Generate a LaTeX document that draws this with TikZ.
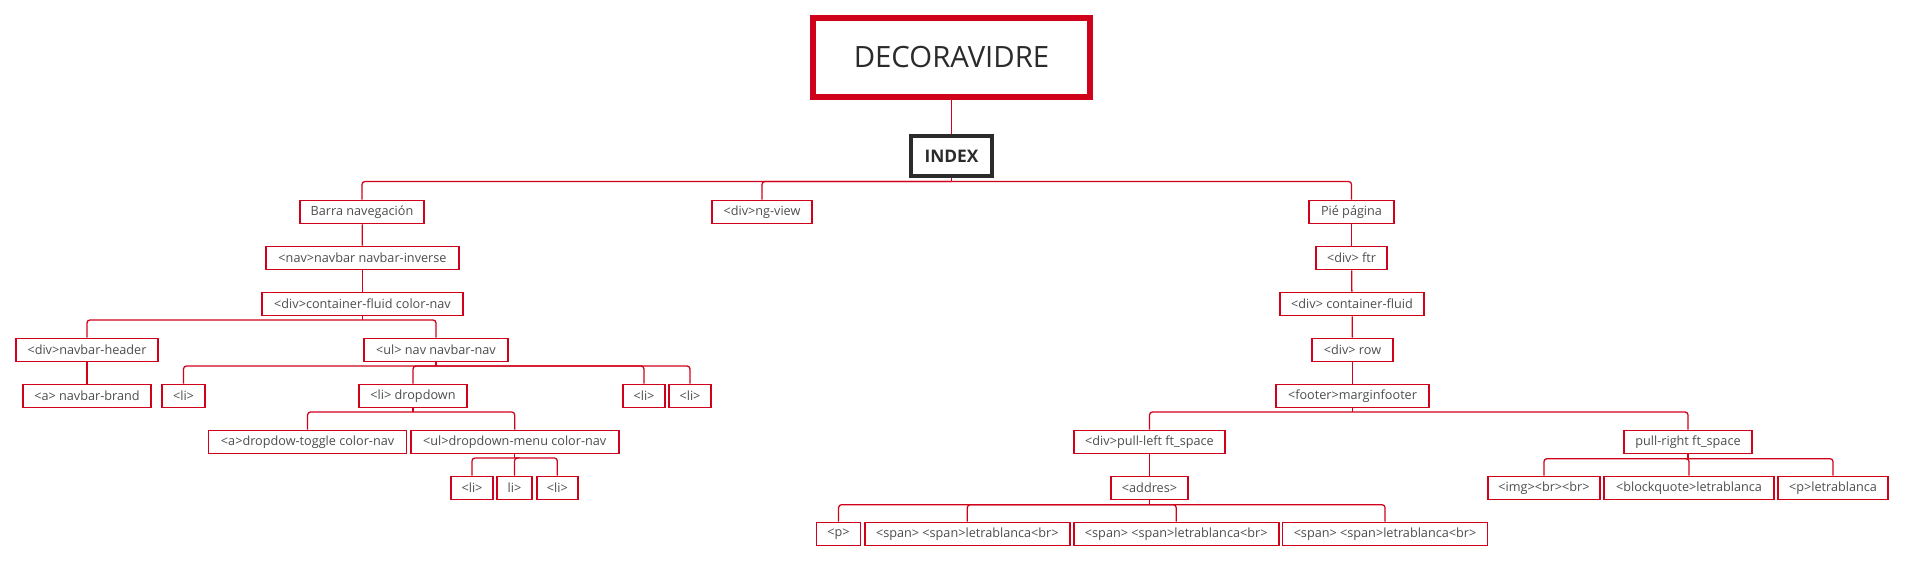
\documentclass[tikz,border=0pt]{standalone}
\usepackage{fontspec}
\setmainfont{Open Sans}
\definecolor{cred}{HTML}{D0021B}
\definecolor{ctext}{HTML}{4D4D4D}
\definecolor{cdark}{HTML}{2B2B2B}
\tikzset{
  box/.style={draw=cred, line width=1.2pt, fill=white, text=ctext, inner sep=0pt,
    minimum height=23*0.75pt, minimum width={#1*0.75pt},
    font=\fontsize{9.5pt}{11pt}\selectfont},
  conn/.style={draw=cred, line width=0.95pt, rounded corners=2.2pt},
  topbox/.style={draw=cred, line width=4.5pt, fill=white, text=cdark, inner sep=0pt,
    minimum width=277*0.75pt, minimum height=79*0.75pt,
    font=\fontsize{22pt}{26pt}\selectfont},
  indexbox/.style={draw=cdark, line width=3pt, fill=white, text=cdark, inner sep=0pt,
    minimum width=81*0.75pt, minimum height=40*0.75pt,
    font=\fontsize{13pt}{15pt}\selectfont\bfseries}
}
\begin{document}
\begin{tikzpicture}[x=0.75pt,y=-0.75pt]
\useasboundingbox (0,0) rectangle (1905,563);
% bus coordinates
\coordinate (indexB) at (951.5,181.5);
\coordinate (contB) at (362.5,320);
\coordinate (ulB) at (436,366);
\coordinate (ddB) at (413,412);
\coordinate (menuB) at (514.7,458);
\coordinate (footB) at (1352.5,412);
\coordinate (addB) at (1149.5,504.7);
\coordinate (prB) at (1688,458.7);
% nodes
\node[topbox] (top) at (951.5,57.5) {DECORAVIDRE};
\node[indexbox] (index) at (951.5,156) {INDEX};
\node[box=124] (barra) at (362,212) {Barra navegación};
\node[box=100] (ngview) at (762,212) {<div>ng-view};
\node[box=85] (pie) at (1351.5,212) {Pié página};
\node[box=193] (nav) at (362.5,258) {<nav>navbar navbar-inverse};
\node[box=201] (cont) at (362.5,304) {<div>container-fluid color-nav};
\node[box=142] (header) at (87,350) {<div>navbar-header};
\node[box=144] (ulnav) at (436,350) {<ul> nav navbar-nav};
\node[box=128] (brand) at (87,396) {<a> navbar-brand};
\node[box=43] (li1) at (183.5,396) {<li>};
\node[box=108] (lidd) at (413,396) {<li> dropdown};
\node[box=42] (li3) at (644,396) {<li>};
\node[box=42] (li4) at (690,396) {<li>};
\node[box=198] (toggle) at (307.6,442) {<a>dropdow-toggle color-nav};
\node[box=208] (menu) at (514.7,442) {<ul>dropdown-menu color-nav};
\node[box=42] (m1) at (472,488) {<li>};
\node[box=35] (m2) at (514.5,488) {li>};
\node[box=41] (m3) at (557.3,488) {<li>};
\node[box=71] (ftr) at (1351.5,258) {<div> ftr};
\node[box=144] (cf) at (1352,304) {<div> container-fluid};
\node[box=81] (row) at (1352.5,350) {<div> row};
\node[box=153] (footer) at (1352.5,396) {<footer>marginfooter};
\node[box=151] (pl) at (1149.5,442) {<div>pull-left ft\_space};
\node[box=128] (pr) at (1688,442) {pull-right ft\_space};
\node[box=77] (addres) at (1149.5,488) {<addres>};
\node[box=44] (p) at (838.6,534) {<p>};
\node[box=205] (s1) at (967.3,534) {<span> <span>letrablanca<br>};
\node[box=205] (s2) at (1176.2,534) {<span> <span>letrablanca<br>};
\node[box=205] (s3) at (1385,534) {<span> <span>letrablanca<br>};
\node[box=112] (img) at (1544,488) {<img><br><br>};
\node[box=170] (bq) at (1689,488) {<blockquote>letrablanca};
\node[box=110] (pl2) at (1833,488) {<p>letrablanca};
% connectors
\draw[conn] (top.south) -- (index.north);
\draw[conn] (index.south) -- (indexB);
\foreach \c in {barra,ngview,pie} \draw[conn] (indexB) -| (\c.north);
\draw[conn] (barra) -- (nav);
\draw[conn] (nav) -- (cont);
\draw[conn] (cont.south) -- (contB);
\foreach \c in {header,ulnav} \draw[conn] (contB) -| (\c.north);
\draw[conn] (header) -- (brand);
\draw[conn] (ulnav.south) -- (ulB);
\foreach \c in {li1,lidd,li3,li4} \draw[conn] (ulB) -| (\c.north);
\draw[conn] (lidd.south) -- (ddB);
\foreach \c in {toggle,menu} \draw[conn] (ddB) -| (\c.north);
\draw[conn] (menu.south) -- (menuB);
\foreach \c in {m1,m2,m3} \draw[conn] (menuB) -| (\c.north);
\draw[conn] (pie) -- (ftr);
\draw[conn] (ftr) -- (cf);
\draw[conn] (cf) -- (row);
\draw[conn] (row) -- (footer);
\draw[conn] (footer.south) -- (footB);
\foreach \c in {pl,pr} \draw[conn] (footB) -| (\c.north);
\draw[conn] (pl) -- (addres);
\draw[conn] (addres.south) -- (addB);
\foreach \c in {p,s1,s2,s3} \draw[conn] (addB) -| (\c.north);
\draw[conn] (pr.south) -- (prB);
\foreach \c in {img,bq,pl2} \draw[conn] (prB) -| (\c.north);
\end{tikzpicture}
\end{document}
